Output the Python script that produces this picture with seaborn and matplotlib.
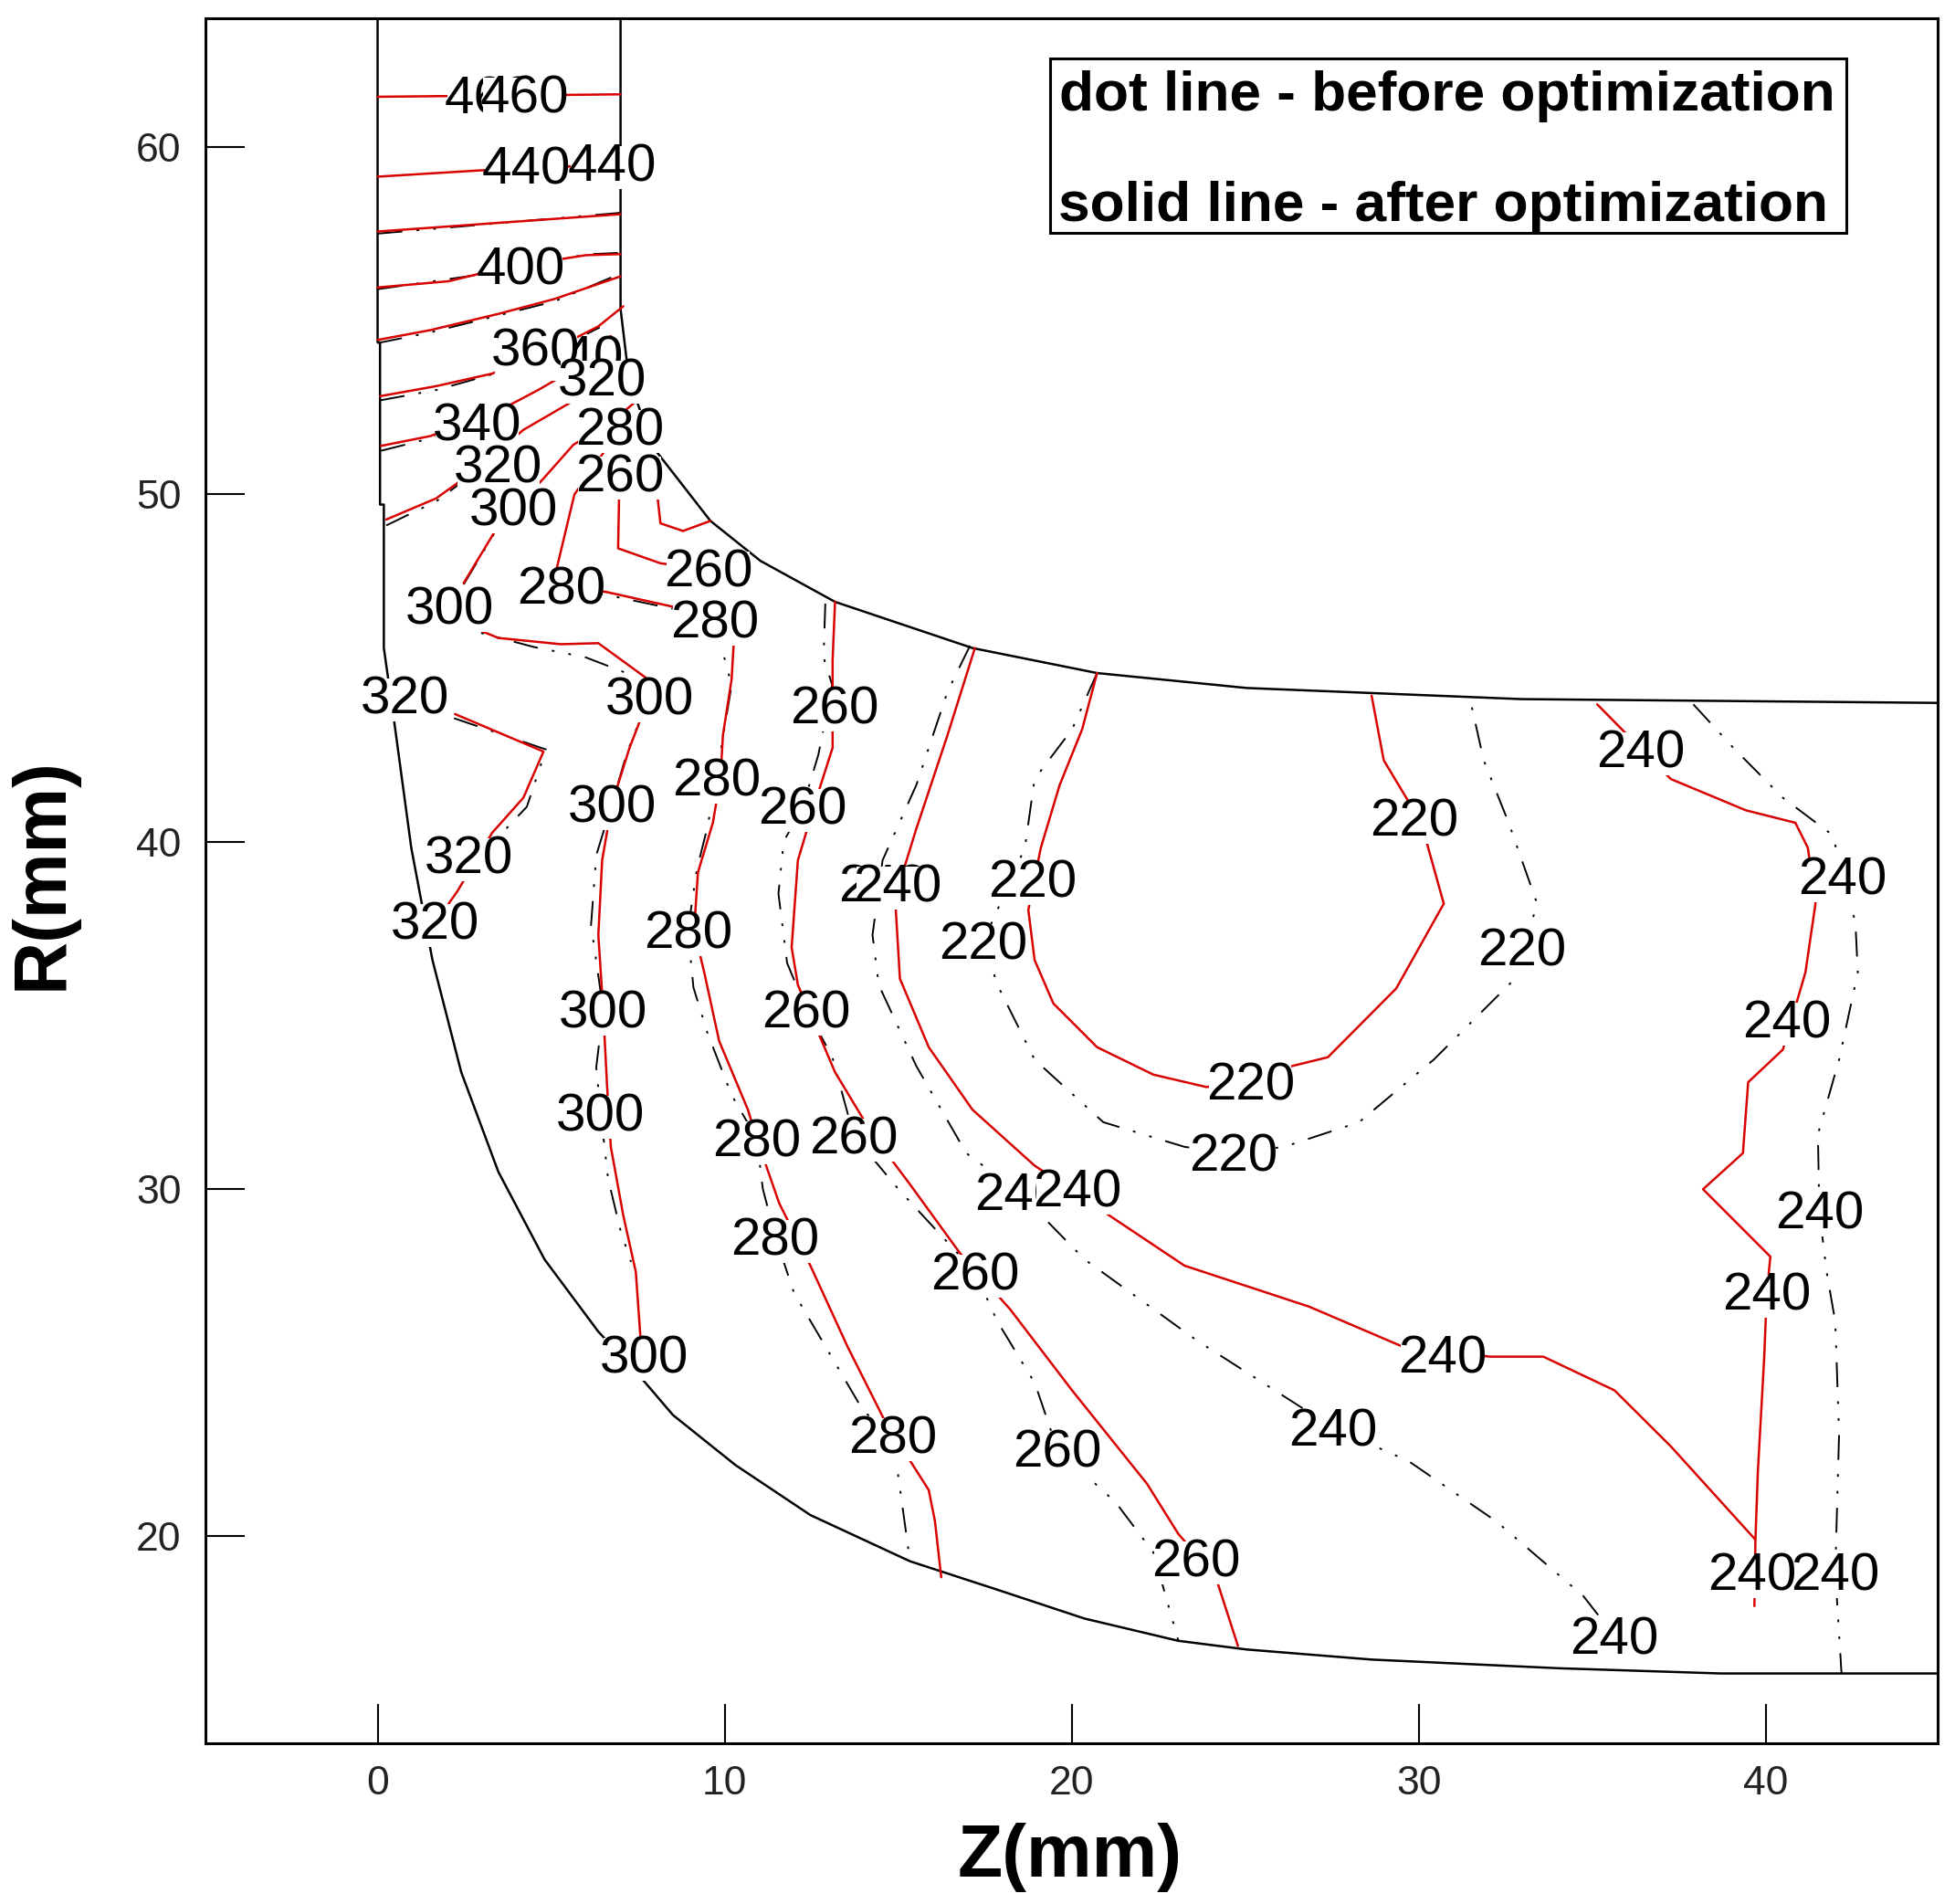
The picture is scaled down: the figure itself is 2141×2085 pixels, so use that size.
import matplotlib
matplotlib.use("Agg")
import matplotlib.pyplot as plt
from matplotlib.patches import Rectangle
import pandas as pd
import seaborn as sns

# Geometry outline (mm)
outer_z = [0,0,0.07,0.07,0.18,0.18,0.46,0.97,1.58,2.41,3.48,4.81,6.36,7.44,8.51,10.31,12.47,15.34,17.86,20.37,23.07,25.04,28.64,34.03,38.70,45]
outer_r = [63.7,54.37,54.37,49.7,49.7,45.57,43.59,39.82,36.59,33.36,30.49,27.97,25.89,24.74,23.49,22.05,20.61,19.28,18.46,17.63,16.99,16.74,16.45,16.2,16.05,16.05]
inner_z = [7.0,7.0,7.18,7.44,7.97,9.59,11.03,13.18,17.14,20.73,25.04,32.95,45]
inner_r = [63.7,55.34,53.83,52.75,51.31,49.23,48.08,46.9,45.57,44.85,44.42,44.1,43.99]

# After optimization (solid)
after_lines = [
    ([0,7],[61.44,61.51]),
    ([0,2.94,7],[59.14,59.32,59.5]),
    ([0,3.48,7],[57.56,57.81,58.06]),
    ([0,2.05,3.48,6.0,7.0],[55.95,56.13,56.48,56.88,56.91]),
    ([0,1.51,3.48,5.1,7.0],[54.44,54.72,55.19,55.62,56.27]),
    ([0.07,1.69,3.3,5.1,6.36,7.08],[52.82,53.11,53.47,54.19,54.83,55.41]),
    ([0.1,1.51,3.3,4.63,5.63,6.72],[51.39,51.67,52.3,53.0,53.58,54.55]),
    ([0.25,1.69,2.94,4.2,5.63,6.9],[49.27,49.88,50.78,51.85,52.68,53.54]),
    ([2.48,3.41,4.78,5.64,6.9,7.62],[47.44,48.98,50.45,51.42,52.21,52.82]),
    ([7.44,6.54,5.67,5.17,5.28,6.61,8.55,9.7,10.27,10.2,9.95,9.88,9.66,9.23,9.12,9.41,9.84,10.67,10.92,11.57,12.47,13.54,14.62,15.88,16.06,16.24],
     [51.96,51.24,49.99,47.9,47.36,47.18,46.75,46.39,45.86,44.67,43.06,41.83,40.54,39.11,37.45,36.24,34.26,32.28,31.46,29.59,27.79,25.46,23.31,21.33,20.43,18.82]),
    ([8.05,8.15,8.8,9.59],[50.06,49.16,48.94,49.23]),
    ([6.97,6.93,8.15,9.0],[50.6,48.44,48.01,47.9]),
    ([2.08,2.69,3.48,5.28,6.36,7.79,7.83,7.26,6.75,6.47,6.36,6.5,6.61,6.72,7.08,7.44,7.58,7.51],
     [46.79,46.18,45.86,45.68,45.71,44.67,44.17,42.7,41.08,39.46,37.31,35.16,33.0,31.21,29.23,27.61,25.64,24.92]),
    ([2.23,4.78,4.2,3.3,2.3,1.9],[43.67,42.59,41.26,40.25,38.57,38.0]),
    ([13.18,13.11,13.11,12.65,12.11,11.93,12.11,13.18,14.26,15.34,16.78,18.22,20.01,22.17,23.07,24.15,24.79],
     [46.9,45.21,42.7,41.26,39.46,36.95,35.87,33.36,31.57,30.13,28.15,26.54,24.2,21.51,20.07,18.82,16.84]),
    ([17.21,16.42,15.52,14.91,15.05,15.88,17.14,18.93,21.09,23.25,26.84,29.53,32.05,33.59,35.64,37.26,39.7],
     [45.57,43.06,40.36,38.39,36.05,34.08,32.28,30.67,29.23,27.79,26.61,25.46,25.17,25.17,24.2,22.59,19.9]),
    ([35.14,37.26,39.42,40.85,41.21,41.43,41.14,40.49,39.49,39.34,38.19,40.13,40.03,39.95,39.77,39.7,39.67],
     [43.95,41.8,40.9,40.54,39.82,38.21,36.23,34.01,33.07,31.03,29.99,28.05,27.04,25.1,21.87,19.9,17.99]),
    ([20.73,20.3,19.65,19.11,18.75,18.93,19.47,20.73,22.35,23.89,27.38,29.35,30.72,30.07,28.99,28.64],
     [44.85,43.23,41.62,39.82,38.03,36.59,35.34,34.08,33.29,32.93,33.79,35.77,38.21,40.54,42.34,44.2]),
]

# Before optimization (dash-dot)
before_lines = [
    ([0,3.5,7],[57.5,57.8,58.1]),
    ([0,3.5,6,7],[55.9,56.4,56.9,56.95]),
    ([0,1.5,3.5,5.1,7],[54.35,54.65,55.15,55.55,56.35]),
    ([0.07,1.7,3.3,5.1,6.4],[52.7,53.0,53.45,54.15,54.8]),
    ([0.1,1.5,3.3],[51.25,51.6,52.3]),
    ([0.25,1.7,2.9],[49.1,49.8,50.7]),
    ([2.48,3.41],[47.4,48.95]),
    ([5.3,6.6,8.5],[47.3,47.1,46.7]),
    ([2.2,4.85,4.3,3.45],[43.55,42.65,41.0,40.1]),
    ([2.1,3.0,4.5,6.0,7.3,7.83,7.2,6.75,6.3,6.15,6.5,6.3,6.43,6.64,7.0,7.3],
     [46.7,46.0,45.6,45.3,44.8,44.17,42.6,41.08,39.6,37.6,35.16,33.5,32.18,30.3,28.8,27.9]),
    ([9.7,10.2,9.95,9.77,9.5,9.2,8.94,9.1,9.5,10.2,10.92,11.1,11.46,12,13,14,14.84,15.34],
     [46.39,44.5,43,41.83,40.4,39.2,37.45,35.8,34.5,32.7,31.46,30,28.62,27,25.3,23.6,22.91,19.28]),
    ([12.9,12.85,13.1,12.7,12.25,11.7,11.55,11.8,12.36,13.1,13.72,15,16.2,17.21,17.86,18.94,19.58,21.27,22.35,23.07],
     [46.85,45.3,44.5,42.5,41,40,38.5,36.5,35.16,33.8,31.53,30,28.7,27.61,26.18,24.4,22.52,20.97,19.54,17.0]),
    ([17.07,16.42,15.52,14.55,14.26,14.44,15.52,16.96,18.47,20.37,23.6,27.52,29.71,32.23,34.74,35.64],
     [45.64,44.31,41.62,39.46,37.31,35.87,33.54,31.03,29.91,27.97,25.64,23.13,22.16,20.43,18.28,17.13]),
    ([20.73,20.01,18.93,18.65,17.46,17.86,18.93,20.91,23.25,24.65,26.12,28.28,30.43,32.77,33.41,32.59,31.87,31.51],
     [44.85,43.23,41.8,39.82,37.13,35.87,33.72,31.92,31.21,31.03,31.21,31.92,33.72,36.05,38.21,40.54,42.34,43.95]),
    ([37.91,39.06,40.49,41.93,42.22,42.58,42.65,42.11,41.5,41.54,41.75,42,42.11,42.0,42.18],
     [43.95,42.7,41.26,40.18,39.0,37.67,36.23,33.72,31.57,29.37,27.61,26.18,22.95,18.96,16.05]),
]

# Contour labels
label_text = ["460","460","440","440","400","340","360","320","340","320","280","260","300","260","280","280","300","320","300","260",
              "280","260","300","320","320","240","240","220","220","220","220","220","220","240","240","240","240","240","240","240",
              "240","240","240","280","260","300","300","280","260","240","240","280","260","300","280","260","260"]
label_z = [3.2,4.24,4.27,6.75,4.13,5.82,4.56,6.47,2.87,3.48,6.97,6.97,3.91,9.52,5.28,9.7,2.08,0.79,7.83,13.15,
           9.77,12.25,6.75,2.62,1.65,14.55,14.98,18.86,17.46,29.86,32.98,25.15,24.65,36.4,42.22,40.6,41.54,40.03,30.68,27.52,
           39.6,42.0,35.64,8.94,12.36,6.5,6.43,10.92,13.72,18.47,20.16,11.46,17.21,7.69,14.84,19.58,23.57]
label_r = [61.48,61.51,59.46,59.54,56.56,54.01,54.22,53.36,52.07,50.85,51.92,50.6,49.63,47.87,47.36,46.39,46.79,44.2,44.17,43.92,
           41.83,41.01,41.08,39.61,37.7,38.78,38.78,38.93,37.13,40.69,36.95,33.07,31.03,42.66,39.0,34.87,29.37,27.04,25.21,23.13,
           18.96,18.96,17.13,37.45,35.16,35.16,32.18,31.46,31.53,29.91,30.02,28.62,27.61,25.21,22.91,22.52,19.36]

legend_lines = ["dot line - before optimization", "solid line - after optimization"]
x_ticks = [0, 10, 20, 30, 40]
y_ticks = [20, 30, 40, 50, 60]

sns.set_theme(style="white")
plt.rcParams['font.family'] = ['Liberation Sans', 'DejaVu Sans']

fig = plt.figure(figsize=(21.41, 20.85), dpi=100)
ax = fig.add_axes([225/2141, 1 - 1909/2085, (2122-225)/2141, (1909-20)/2085])


def draw(z, r, **kw):
    df = pd.DataFrame({"Z": z, "R": r})
    sns.lineplot(data=df, x="Z", y="R", sort=False, estimator=None, errorbar=None, ax=ax, **kw)


draw(outer_z, outer_r, color="black", lw=1.8)
draw(inner_z, inner_r, color="black", lw=1.8)
for z, r in before_lines:
    draw(z, r, color="black", lw=1.4, linestyle=(0, (14, 8, 1.5, 8, 1.5, 8)))
for z, r in after_lines:
    draw(z, r, color="#d80000", lw=1.8)

for t, z, r in zip(label_text, label_z, label_r):
    ax.annotate(t, (z, r), xytext=(0, -3.5), textcoords="offset points", fontsize=42, color="black",
                ha="center", va="center", zorder=5,
                bbox=dict(boxstyle="square,pad=-0.06", fc="white", ec="none"))

ax.set_xlim(-4.96, 44.95)
ax.set_ylim(14.04, 63.7)
ax.set_xticks(x_ticks)
ax.set_yticks(y_ticks)
ax.tick_params(axis="both", direction="in", length=31, width=1.5, color="black", labelsize=32, labelcolor="#222222",
               bottom=True, left=True)
ax.tick_params(axis="x", pad=17)
ax.tick_params(axis="y", pad=19)
for s in ax.spines.values():
    s.set_visible(True)
    s.set_color("black")
    s.set_linewidth(2.2)

ax.set_xlabel("Z(mm)", fontsize=58, fontweight="bold", color="black")
ax.set_ylabel("R(mm)", fontsize=58, fontweight="bold", color="black")
ax.xaxis.set_label_coords(0.499, -0.066)
ax.yaxis.set_label_coords(-0.094, 0.504)
ax.xaxis.label.set_va("center")
ax.yaxis.label.set_va("center")

ax.add_patch(Rectangle((19.37, 57.53), 42.33 - 19.37, 62.55 - 57.53, fc="white", ec="black", lw=2.2, zorder=6))
ax.annotate(legend_lines[0], (19.65, 61.55), xytext=(0, -3), textcoords="offset points", fontsize=44.8,
            fontweight="bold", va="center", ha="left", color="black", zorder=7)
ax.annotate(legend_lines[1], (19.62, 58.39), xytext=(0, -3), textcoords="offset points", fontsize=44.8,
            fontweight="bold", va="center", ha="left", color="black", zorder=7)

fig.savefig("out.png", dpi=100, facecolor="white")
